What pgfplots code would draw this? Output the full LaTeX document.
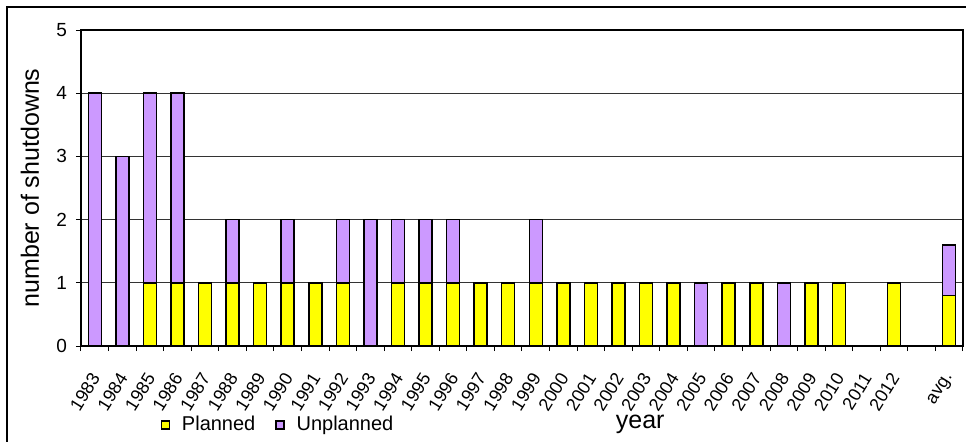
\documentclass[border=0pt]{standalone}
\usepackage{pgfplots}
\pgfplotsset{compat=1.18}
\usepackage{fontspec}
\setmainfont{Liberation Sans}

\definecolor{planned}{RGB}{255,255,0}
\definecolor{unplanned}{RGB}{204,153,255}

\begin{document}
\begin{tikzpicture}
\path[use as bounding box] (-40.5pt,-47.5pt) rectangle (442.5pt,173pt);
\draw[black, line width=0.7pt] (-37pt,-70pt) rectangle (470pt,169.5pt);
\begin{axis}[
    at={(0,0)}, anchor=south west,
    scale only axis,
    width=441pt, height=158pt,
    ybar stacked,
    bar width=0.47,
    xmin=-0.5, xmax=31.5,
    ymin=0, ymax=5,
    xtick={0,...,31},
    xticklabels={1983,1984,1985,1986,1987,1988,1989,1990,1991,1992,1993,1994,1995,1996,1997,1998,1999,2000,2001,2002,2003,2004,2005,2006,2007,2008,2009,2010,2011,2012,,avg.},
    minor xtick={-0.5,0.5,...,31.5},
    ytick={0,1,2,3,4,5},
    major x tick style={draw=none},
    tick align=outside,
    tick pos=left,
    major tick length=2.5pt,
    minor tick length=2.5pt,
    tick style={black, line width=0.5pt},
    ymajorgrids,
    grid style={black!80, line width=0.5pt},
    axis line style={black, line width=0.6pt},
    /pgf/number format/assume math mode=true,
    yticklabel style={font=\fontsize{9.5}{10}\selectfont, xshift=-1pt},
    xticklabel style={font=\fontsize{9}{10}\selectfont, yshift=-11pt, xshift=1pt, rotate=58, anchor=east, inner sep=1pt},
    xlabel={year},
    ylabel={number of shutdowns},
    label style={font=\fontsize{12.5}{14}\selectfont},
    xlabel style={at={(axis description cs:0.634,-0.247)}, anchor=center},
    ylabel style={at={(axis description cs:-0.058,0.5)}, anchor=center},
    legend columns=2,
    legend style={at={(axis description cs:0.09,-0.25)}, anchor=west, draw=none, fill=none,
        font=\fontsize{10}{12}\selectfont, inner sep=0pt,
        /tikz/every odd column/.append style={column sep=4pt},
        /tikz/every even column/.append style={column sep=8pt}},
    legend image code/.code={\draw[#1, line width=0.6pt] (0pt,-2pt) rectangle (4pt,2pt);},
]
\addplot[fill=planned, draw=black, line width=0.75pt] coordinates {
    (0,0) (1,0) (2,1) (3,1) (4,1) (5,1) (6,1) (7,1) (8,1) (9,1)
    (10,0) (11,1) (12,1) (13,1) (14,1) (15,1) (16,1) (17,1) (18,1) (19,1)
    (20,1) (21,1) (22,0) (23,1) (24,1) (25,0) (26,1) (27,1) (28,0) (29,1)
    (30,0) (31,0.8)
};
\addplot[fill=unplanned, draw=black, line width=0.75pt] coordinates {
    (0,4) (1,3) (2,3) (3,3) (4,0) (5,1) (6,0) (7,1) (8,0) (9,1)
    (10,2) (11,1) (12,1) (13,1) (14,0) (15,0) (16,1) (17,0) (18,0) (19,0)
    (20,0) (21,0) (22,1) (23,0) (24,0) (25,1) (26,0) (27,0) (28,0) (29,0)
    (30,0) (31,0.8)
};
\legend{Planned, Unplanned}
\end{axis}
\end{tikzpicture}
\end{document}
